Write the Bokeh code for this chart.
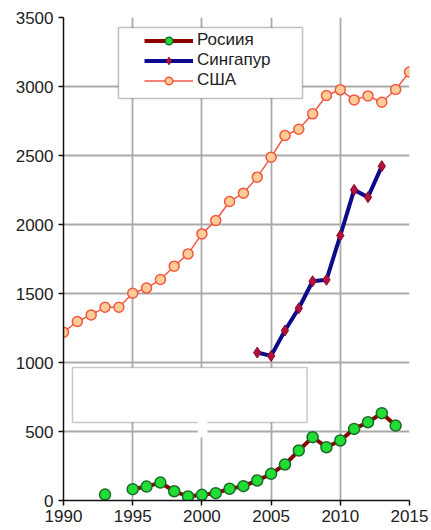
import numpy as np
from bokeh.plotting import figure
from bokeh.models import (ColumnDataSource, FixedTicker, Legend, LegendItem,
                          BoxAnnotation, Range1d)
from bokeh.embed import file_html
from bokeh.resources import INLINE

# ---- data ----
usa_years = list(range(1990, 2016))
usa_values = [1220, 1297, 1345, 1400, 1400, 1502, 1539, 1601, 1698, 1787,
              1932, 2029, 2167, 2227, 2343, 2488, 2645, 2690, 2802, 2935,
              2976, 2903, 2932, 2886, 2978, 3105]

sing_years = list(range(2004, 2014))
sing_values = [1072, 1048, 1232, 1393, 1589, 1599, 1920, 2251, 2198, 2423]

rus_years = list(range(1993, 2015))
rus_values = [43, np.nan, 82, 101, 130, 67, 29, 41, 53, 85, 104, 145, 193,
              261, 362, 459, 386, 435, 519, 567, 633, 543]

x_ticks = [1990, 1995, 2000, 2005, 2010, 2015]
y_ticks = [0, 500, 1000, 1500, 2000, 2500, 3000, 3500]

labels = ["Росиия", "Сингапур", "США"]

FONT = "Liberation Sans"

p = figure(width=431, height=530, output_backend="svg", toolbar_location=None,
           x_range=Range1d(1990, 2015), y_range=Range1d(0, 3500),
           min_border_left=63, min_border_right=22, min_border_top=17,
           min_border_bottom=30)
p.outline_line_color = None
p.background_fill_color = "white"

for ax in (p.xaxis, p.yaxis):
    ax.axis_line_color = "#111111"
    ax.axis_line_width = 1.5
    ax.major_tick_line_color = "#111111"
    ax.major_tick_line_width = 1.5
    ax.major_tick_in = 0
    ax.major_tick_out = 5
    ax.minor_tick_line_color = None
    ax.major_label_text_font = FONT
    ax.major_label_text_font_size = "17px"
    ax.major_label_text_color = "#222222"

p.xaxis.ticker = FixedTicker(ticks=x_ticks)
p.yaxis.ticker = FixedTicker(ticks=y_ticks)
p.xaxis.major_label_standoff = 4
p.yaxis.major_label_standoff = 5

p.xgrid.ticker = FixedTicker(ticks=x_ticks)
p.ygrid.ticker = FixedTicker(ticks=y_ticks)
for g in (p.xgrid, p.ygrid):
    g.grid_line_color = "#aaaaaa"
    g.grid_line_width = 1.8

# white box annotation in the lower area
p.add_layout(BoxAnnotation(left=1990.65, right=2007.6, bottom=565, top=964,
                           fill_color="white", fill_alpha=1.0,
                           line_color="#444444", line_width=1.5))
p.add_layout(BoxAnnotation(left=1999.7, right=2000.4, bottom=457, top=580,
                           fill_color="white", fill_alpha=1.0, line_color=None))

# series
usa_src = ColumnDataSource(dict(x=usa_years, y=usa_values))
sing_src = ColumnDataSource(dict(x=sing_years, y=sing_values))
rus_src = ColumnDataSource(dict(x=rus_years, y=rus_values))

usa_l = p.line("x", "y", source=usa_src, line_color="#f0584a", line_width=1.5)
usa_m = p.scatter("x", "y", source=usa_src, marker="circle", size=10,
                  fill_color="#ffcc99", line_color="#f0583c", line_width=1.5)

sing_l = p.line("x", "y", source=sing_src, line_color="#0b0b8c", line_width=4)
sing_m = p.scatter("x", "y", source=sing_src, marker="diamond", size=11,
                   fill_color="#b3103c", line_color="#8a0a30", line_width=1)

rus_l = p.line("x", "y", source=rus_src, line_color="#8b0000", line_width=4)
rus_m = p.scatter("x", "y", source=rus_src, marker="circle", size=11,
                  fill_color="#22dd33", line_color="#1a6a2a", line_width=1.5)

# legend frame
p.add_layout(BoxAnnotation(left=1993.97, right=2007.27, bottom=2913, top=3428,
                           fill_color="white", fill_alpha=1.0,
                           line_color="#333333", line_width=1.5))

legend = Legend(items=[LegendItem(label=labels[0], renderers=[rus_l, rus_m]),
                       LegendItem(label=labels[1], renderers=[sing_l, sing_m]),
                       LegendItem(label=labels[2], renderers=[usa_l, usa_m])],
                location=(81, 410), margin=0, padding=0, spacing=0,
                label_height=19, glyph_height=19, glyph_width=49,
                label_standoff=4, border_line_color=None,
                background_fill_alpha=0.0,
                label_text_font=FONT, label_text_font_size="17px",
                label_text_color="#222222")
p.add_layout(legend, "center")

open("out.html", "w").write(file_html(p, INLINE))
